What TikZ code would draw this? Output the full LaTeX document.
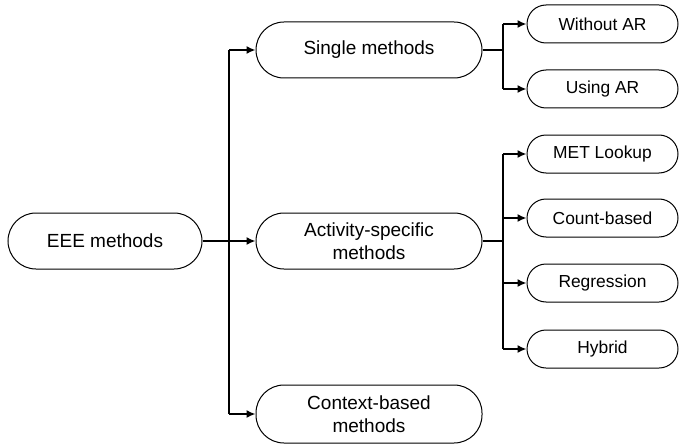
\documentclass[tikz,border=0pt]{standalone}
\usepackage{fontspec}
\setmainfont{Liberation Sans}
\usetikzlibrary{arrows.meta}
\tikzset{
  method/.style={draw, line width=0.5pt, rounded corners=14pt, minimum width=113pt,
    minimum height=28pt, align=center, inner sep=1pt,
    font=\fontsize{9.5}{11.5}\selectfont},
  leaf/.style={draw, line width=0.5pt, rounded corners=9.5pt, minimum width=75.5pt,
    minimum height=19pt, inner sep=1pt, font=\fontsize{8.7}{10}\selectfont},
  link/.style={line width=0.8pt, -{Latex[length=4.5pt,width=4pt]}},
  trunk/.style={line width=0.8pt}
}
\begin{document}
\begin{tikzpicture}[x=0.5pt,y=-0.5pt]
  \useasboundingbox (0,0) rectangle (679,444);
  % root and first level
  \node[method, minimum width=97pt] (eee) at (105,241) {EEE methods};
  \node[method] (single) at (369,50) {Single methods};
  \node[method] (activity) at (369,241) {Activity-specific\\methods};
  \node[method, minimum height=29pt] (context) at (369,414) {Context-based\\methods};
  % leaves
  \node[leaf] (noar) at (602.5,24) {Without AR};
  \node[leaf] (usear) at (602.5,89) {Using AR};
  \node[leaf] (met) at (602.5,154) {MET Lookup};
  \node[leaf] (count) at (602.5,218) {Count-based};
  \node[leaf] (regr) at (602.5,283) {Regression};
  \node[leaf] (hybrid) at (602.5,349) {Hybrid};
  % branch points
  \coordinate (t0) at (229,241);
  \coordinate (t1) at (503,50);
  \coordinate (t2) at (503,241);
  \draw[link] (eee.east) -- (activity.west);
  \draw[trunk] (t0 |- single) -- (t0 |- context);
  \foreach \n in {single,context}
    \draw[link] (t0 |- \n) -- (\n.west);
  \draw[trunk] (single.east) -- (t1);
  \draw[trunk] (t1 |- noar) -- (t1 |- usear);
  \foreach \n in {noar,usear}
    \draw[link] (t1 |- \n) -- (\n.west);
  \draw[trunk] (activity.east) -- (t2);
  \draw[trunk] (t2 |- met) -- (t2 |- hybrid);
  \foreach \n in {met,count,regr,hybrid}
    \draw[link] (t2 |- \n) -- (\n.west);
\end{tikzpicture}
\end{document}
